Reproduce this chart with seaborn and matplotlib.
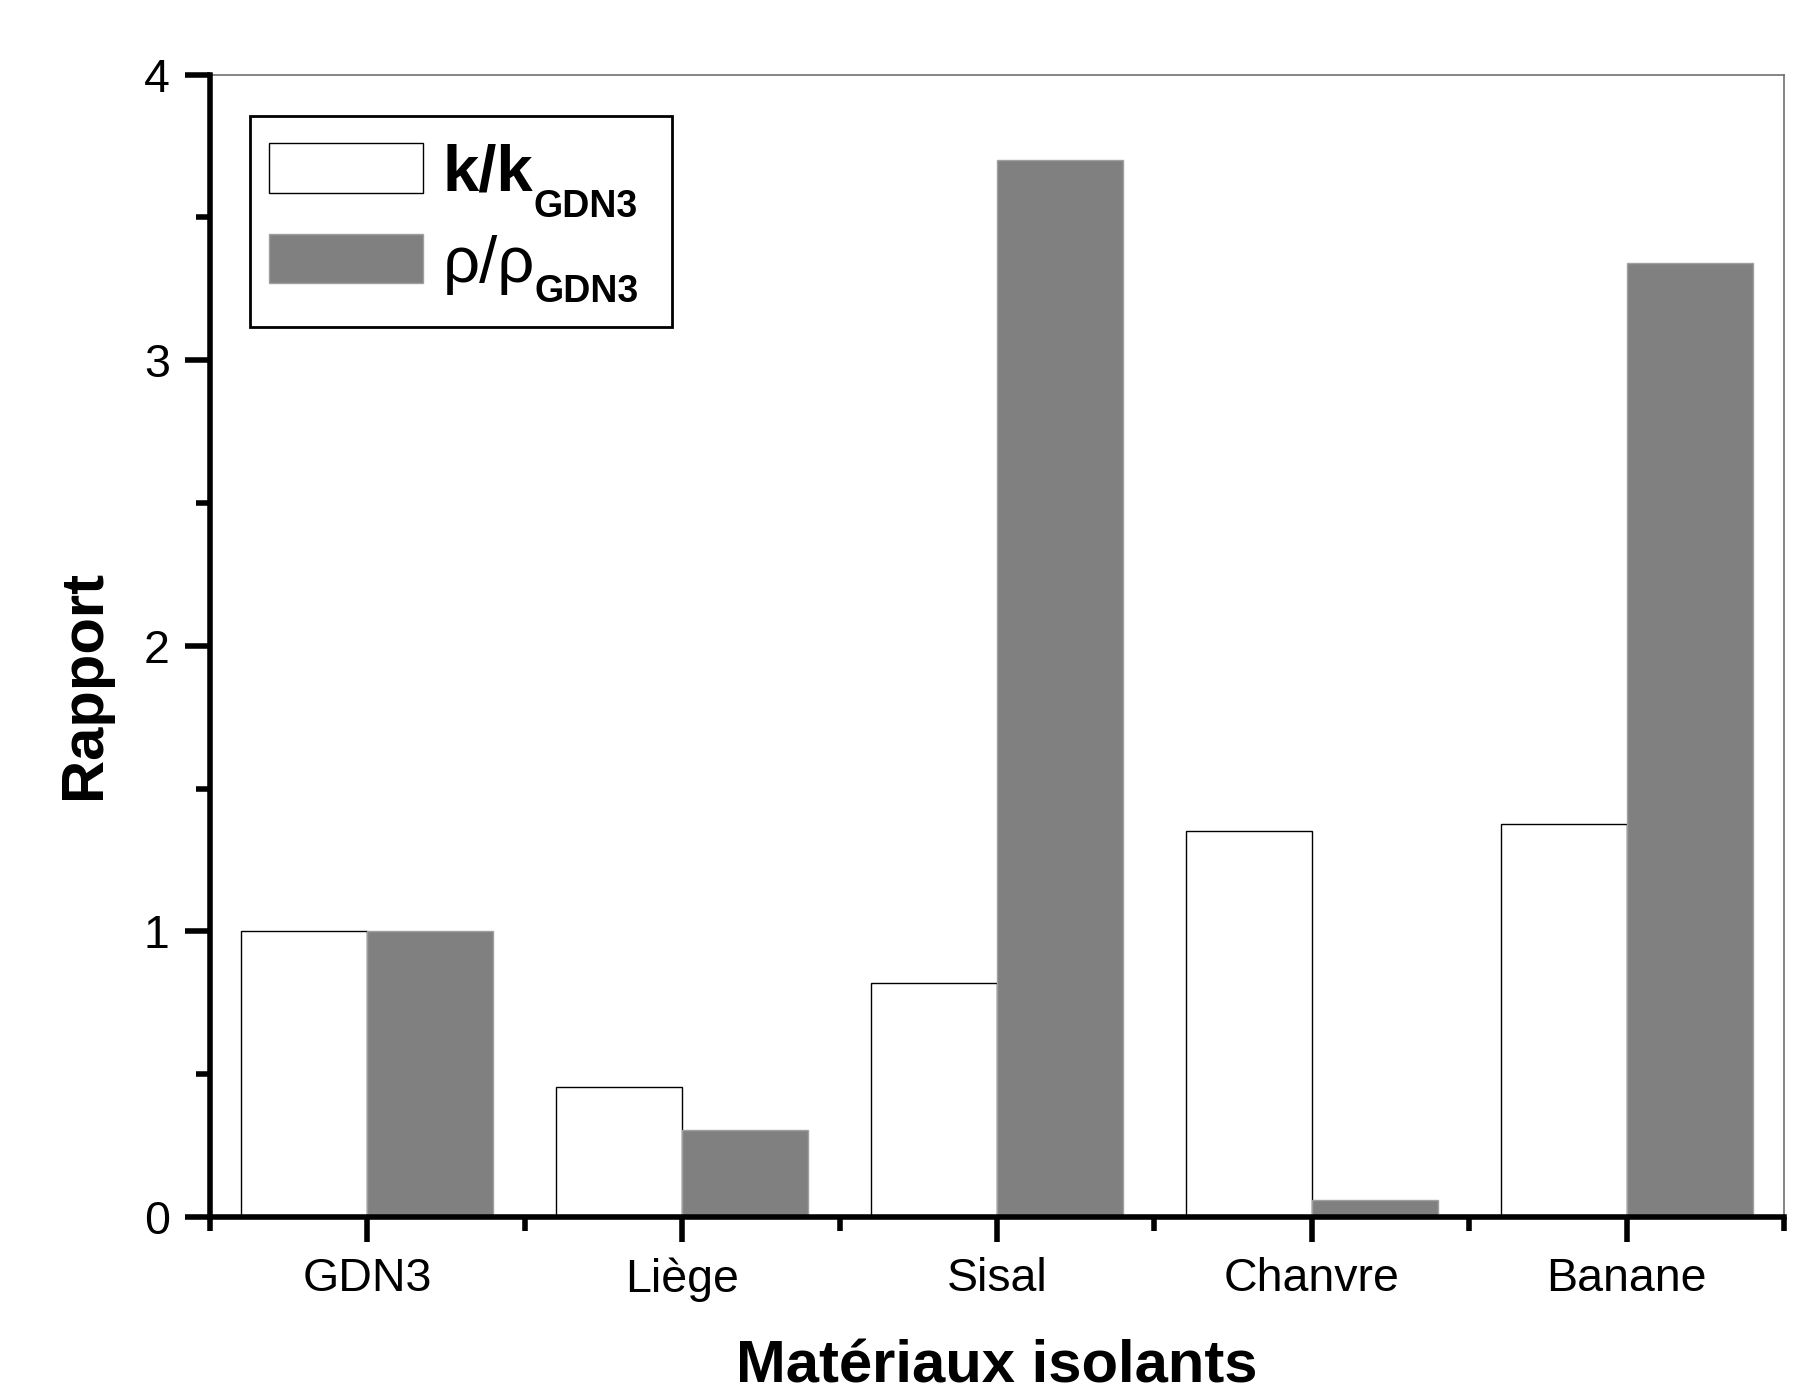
import pandas as pd
import seaborn as sns
import matplotlib.pyplot as plt
from matplotlib.ticker import MultipleLocator, FixedLocator
from matplotlib.patches import Rectangle
from matplotlib.transforms import Bbox, IdentityTransform

# values
materials = ["GDN3", "Liège", "Sisal", "Chanvre", "Banane"]
k_ratio = [1.0, 0.455, 0.82, 1.35, 1.375]
rho_ratio = [1.0, 0.305, 3.70, 0.06, 3.34]
series = ["k/k", "ρ/ρ"]
subscript = "GDN3"

data = pd.DataFrame({
    "Matériau": materials * 2,
    "Série": [series[0]] * len(materials) + [series[1]] * len(materials),
    "Rapport": k_ratio + rho_ratio,
})

sns.set_style("ticks")
plt.rcParams["font.family"] = ["Liberation Sans", "DejaVu Sans"]
for key in ["text.color", "axes.labelcolor", "xtick.color", "ytick.color"]:
    plt.rcParams[key] = "black"

fig = plt.figure(figsize=(17.99, 13.94), dpi=100)
ax = fig.add_axes([0.1167, 0.127, 0.875, 0.8195])

sns.barplot(data=data, x="Matériau", y="Rapport", hue="Série",
            hue_order=series,
            palette={series[0]: "white", series[1]: "#808080"},
            width=0.8, saturation=1, legend=False, ax=ax)

# bar outlines
for cont, ec in zip(ax.containers, ["black", "#a0a0a0"]):
    for p in cont.patches:
        p.set_edgecolor(ec)
        p.set_linewidth(1.0)

ax.set_xlim(-0.5, len(materials) - 0.5)
ax.set_ylim(0, 4)
ax.yaxis.set_major_locator(MultipleLocator(1))
ax.yaxis.set_minor_locator(MultipleLocator(0.5))
ax.xaxis.set_minor_locator(FixedLocator([i - 0.5 for i in range(len(materials) + 1)]))

ax.tick_params(axis="both", which="major", direction="out", length=18, width=4,
               labelsize=33.5, pad=11)
ax.tick_params(axis="both", which="minor", direction="out", length=10, width=4)

for side in ["left", "bottom"]:
    ax.spines[side].set_linewidth(4)
    ax.spines[side].set_color("black")
    ax.spines[side].set_zorder(5)
for side in ["top", "right"]:
    ax.spines[side].set_linewidth(1.2)
    ax.spines[side].set_color("#707070")

ax.set_xlabel("Matériaux isolants", fontsize=43, fontweight="bold", labelpad=27)
ax.set_ylabel("Rapport", fontsize=43, fontweight="bold")
ax.yaxis.set_label_coords(-0.062, 0.466)

# legend content only; the frame is drawn below so it can hold the subscripts
leg = ax.legend(ax.containers, series, loc="upper left",
                bbox_to_anchor=(0.0375, 0.9397), borderaxespad=0,
                fontsize=47, frameon=False,
                handlelength=2.36, handleheight=0.78, labelspacing=0.47,
                borderpad=0, handletextpad=0.3)
texts = leg.get_texts()
texts[0].set_fontweight("bold")

# subscripts GDN3, placed right after the main label text
fig.canvas.draw()
offsets = [(0, -9.5), (0, -5.5)]
subs = []
for txt, (dx, dy) in zip(texts, offsets):
    w_pt = txt.get_window_extent().width * 72 / fig.dpi
    subs.append(ax.annotate(subscript, xy=(0, 0), xycoords=txt,
                            xytext=(w_pt + dx, dy), textcoords="offset points",
                            ha="left", va="baseline", fontsize=27,
                            fontweight="bold", zorder=10))

# legend frame around handles, labels and subscripts
fig.canvas.draw()
renderer = fig.canvas.get_renderer()
lb = leg.get_window_extent(renderer)
sb = Bbox.union([s.get_window_extent(renderer) for s in subs])
pad_left, pad_top, pad_right, pad_bottom = 19, 27, 33, 17
x0 = lb.x0 - pad_left
x1 = max(lb.x1, sb.x1) + pad_right
y0 = min(lb.y0, sb.y0) - pad_bottom
y1 = lb.y1 + pad_top
frame = Rectangle((x0, y0), x1 - x0, y1 - y0, transform=IdentityTransform(),
                  fill=False, edgecolor="black", linewidth=2, zorder=10)
fig.add_artist(frame)

fig.savefig("out.png", dpi=100)
